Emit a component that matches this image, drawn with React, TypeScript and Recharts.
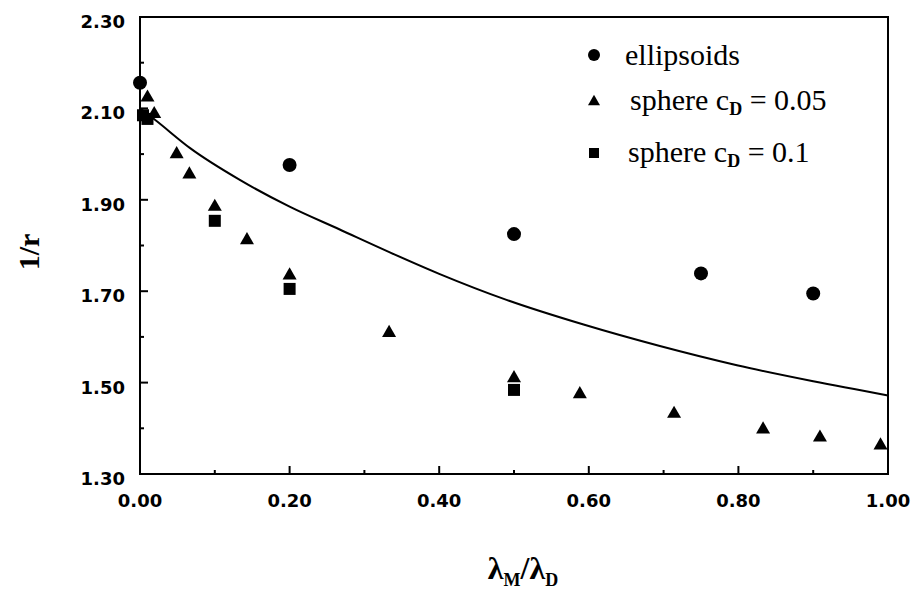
import { ComposedChart, XAxis, YAxis, Line, Scatter, ReferenceArea, Legend } from 'recharts'

const ellipsoidX = [0, 0.2, 0.5, 0.75, 0.9]
const ellipsoidY = [2.156, 1.976, 1.825, 1.739, 1.695]

const sphere05X = [0.01, 0.019, 0.049, 0.066, 0.1, 0.143, 0.2, 0.333, 0.5, 0.588, 0.714, 0.833, 0.909, 0.99]
const sphere05Y = [2.126, 2.09, 2.002, 1.958, 1.887, 1.814, 1.737, 1.611, 1.512, 1.477, 1.434, 1.4, 1.382, 1.365]

const sphere1X = [0.004, 0.01, 0.1, 0.2, 0.5]
const sphere1Y = [2.085, 2.077, 1.854, 1.705, 1.484]

const curveX = [0, 0.02, 0.067, 0.134, 0.2, 0.267, 0.334, 0.4, 0.49, 0.593, 0.695, 0.798, 0.9, 1.0]
const curveY = [2.1, 2.075, 2.013, 1.943, 1.885, 1.835, 1.785, 1.738, 1.681, 1.627, 1.58, 1.538, 1.503, 1.472]

const xTicks = [0, 0.1, 0.2, 0.3, 0.4, 0.5, 0.6, 0.7, 0.8, 0.9, 1.0]
const yTicks = [1.3, 1.4, 1.5, 1.6, 1.7, 1.8, 1.9, 2.0, 2.1, 2.2, 2.3]

const legendItems = [
  { key: 'ellipsoids', pre: 'ellipsoids', sub: '', post: '' },
  { key: 'sphere05', pre: 'sphere c', sub: 'D', post: ' = 0.05' },
  { key: 'sphere1', pre: 'sphere c', sub: 'D', post: ' = 0.1' },
]

const zip = (xs: number[], ys: number[]) => xs.map((x, i) => ({ x, y: ys[i] }))

const tickFont = { fontFamily: '"DejaVu Sans", sans-serif', fontWeight: 700, fontSize: 18, fill: '#000' }
const serif = '"Liberation Serif", "Times New Roman", serif'

const Dot = ({ cx, cy, r = 7 }: any) => <circle cx={cx} cy={cy} r={r} fill="#000" />
const Tri = ({ cx, cy, s = 14 }: any) => {
  const h = s * 0.87
  return <polygon points={`${cx},${cy - h / 2 - 1} ${cx - s / 2},${cy + h / 2 - 1} ${cx + s / 2},${cy + h / 2 - 1}`} fill="#000" />
}
const Sq = ({ cx, cy, s = 12 }: any) => <rect x={cx - s / 2} y={cy - s / 2} width={s} height={s} fill="#000" />

const XTick = ({ x, y, payload }: any) => {
  const major = Math.round(payload.value * 10) % 2 === 0
  return (
    <g>
      <line x1={x} x2={x} y1={y} y2={y - (major ? 8 : 4)} stroke="#000" strokeWidth={2} />
      {major && <text x={x} y={y + 33} textAnchor="middle" {...tickFont}>{payload.value.toFixed(2)}</text>}
    </g>
  )
}

const YTick = ({ x, y, payload }: any) => {
  const major = Math.round(payload.value * 10) % 2 === 1
  return (
    <g>
      <line x1={x} x2={x + (major ? 8 : 4)} y1={y} y2={y} stroke="#000" strokeWidth={2} />
      {major && <text x={x - 15} y={y + 11} textAnchor="end" {...tickFont}>{payload.value.toFixed(2)}</text>}
    </g>
  )
}

const rowH = [40, 52, 52]
const rowPad = [0, 5, 3]

const LegendBox = () => (
  <div style={{ fontFamily: serif, fontSize: 30, color: '#000', lineHeight: 1 }}>
    {legendItems.map((it, i) => (
      <div key={it.key} style={{ height: rowH[i], display: 'flex', alignItems: 'center' }}>
        <svg width={20} height={20} style={{ flex: 'none' }}>
          {i === 0 && <Dot cx={10} cy={10} r={6} />}
          {i === 1 && <Tri cx={10} cy={10} s={12} />}
          {i === 2 && <Sq cx={10} cy={10} s={10} />}
        </svg>
        <span style={{ marginLeft: 21 + rowPad[i], whiteSpace: 'nowrap' }}>
          {it.pre}
          {it.sub && <sub style={{ fontSize: 18, verticalAlign: -5, fontWeight: 700 }}>{it.sub}</sub>}
          {it.post}
        </span>
      </div>
    ))}
  </div>
)

export default function App() {
  return (
    <div style={{ position: 'absolute', left: 0, top: 0, width: 913, height: 592, background: '#fff' }}>
      <ComposedChart width={913} height={592} margin={{ top: 17, right: 25, bottom: 0, left: 0 }}>
        <XAxis
          type="number" dataKey="x" domain={[0, 1]} ticks={xTicks} interval={0}
          height={118} tickSize={0} tickMargin={0} tickLine={false} tick={<XTick />}
          axisLine={{ stroke: '#000', strokeWidth: 2 }}
        />
        <YAxis
          type="number" dataKey="y" domain={[1.3, 2.3]} ticks={yTicks} interval={0}
          width={140} tickSize={0} tickMargin={0} tickLine={false} tick={<YTick />}
          axisLine={{ stroke: '#000', strokeWidth: 2 }}
        />
        <ReferenceArea x1={0} x2={1} y1={1.3} y2={2.3} fill="none" fillOpacity={0} stroke="#000" strokeWidth={2} />
        <Line data={zip(curveX, curveY)} dataKey="y" type="monotone" dot={false} stroke="#000" strokeWidth={2} isAnimationActive={false} />
        <Scatter data={zip(ellipsoidX, ellipsoidY)} dataKey="y" shape={(p: any) => <Dot cx={p.cx} cy={p.cy} />} isAnimationActive={false} />
        <Scatter data={zip(sphere05X, sphere05Y)} dataKey="y" shape={(p: any) => <Tri cx={p.cx} cy={p.cy} />} isAnimationActive={false} />
        <Scatter data={zip(sphere1X, sphere1Y)} dataKey="y" shape={(p: any) => <Sq cx={p.cx} cy={p.cy} />} isAnimationActive={false} />
        <Legend
          layout="vertical" align="center" verticalAlign="middle"
          content={() => <LegendBox />}
          wrapperStyle={{ left: 584, top: 35, width: 320 }}
        />
      </ComposedChart>
      <svg width={913} height={592} style={{ position: 'absolute', left: 0, top: 0, pointerEvents: 'none' }}>
        <text x={39} y={252} transform="rotate(-90 39 252)" textAnchor="middle" fontFamily={serif} fontWeight={700} fontSize={30}>1/r</text>
        <text x={523} y={579} textAnchor="middle" fontFamily={serif} fontWeight={700} fontSize={32}>
          λ<tspan fontSize={18} dy={7}>M</tspan><tspan dy={-7}>/λ</tspan><tspan fontSize={18} dy={7}>D</tspan>
        </text>
      </svg>
    </div>
  )
}
